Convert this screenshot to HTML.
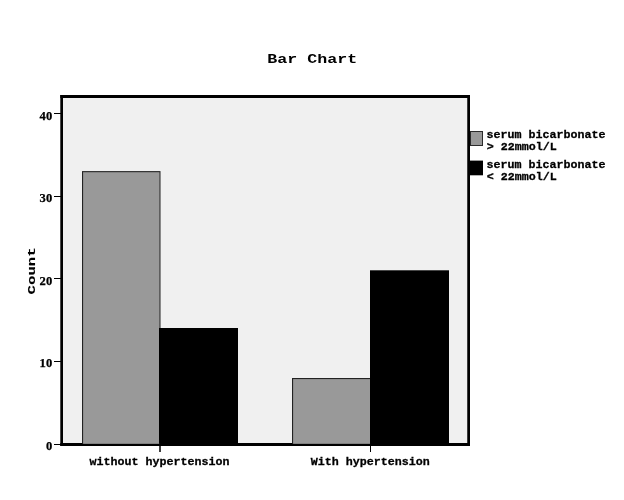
<!DOCTYPE html>
<html>
<head>
<meta charset="utf-8">
<title>Bar Chart</title>
<style>
html,body{margin:0;padding:0;background:#fff;}
body{width:624px;height:500px;overflow:hidden;position:relative;}
svg{display:block;position:absolute;left:0;top:0;}
text{font-family:"Liberation Mono","DejaVu Sans Mono",monospace;font-weight:bold;fill:#000;}
.t{font-size:16.67px;}
.l{font-size:11.67px;stroke:#000;stroke-width:0.3px;}
.c{font-size:15px;stroke:#000;stroke-width:0.15px;}
.d{font-family:"Liberation Serif","DejaVu Serif",serif;font-size:12.6px;letter-spacing:0.4px;stroke:#000;stroke-width:0.25px;}
</style>
</head>
<body>
<svg width="624" height="500" viewBox="0 0 624 500">
  <rect x="0" y="0" width="624" height="500" fill="#ffffff"/>
  <!-- plot background -->
  <rect x="61" y="95" width="409" height="351" fill="#f0f0f0" shape-rendering="crispEdges"/>
  <!-- frame -->
  <g shape-rendering="crispEdges" fill="#000000">
    <rect x="60.3" y="95" width="409.7" height="3" shape-rendering="geometricPrecision"/>
    <rect x="60.3" y="95" width="2.7" height="351" shape-rendering="geometricPrecision"/>
    <rect x="467.25" y="95" width="2.75" height="351" shape-rendering="geometricPrecision"/>
    <rect x="60.3" y="443" width="409.7" height="3" shape-rendering="geometricPrecision"/>
    <!-- y ticks -->
    <rect x="54" y="113" width="7" height="1"/>
    <rect x="54" y="196" width="7" height="1"/>
    <rect x="54" y="278" width="7" height="1"/>
    <rect x="54" y="361" width="7" height="1"/>
    <rect x="54" y="444" width="7" height="1"/>
    <!-- x ticks -->
    <rect x="159.25" y="446" width="1.5" height="6" fill="#000" shape-rendering="geometricPrecision"/>
    <rect x="370" y="446" width="1" height="6" fill="#000"/>
  </g>
  <!-- bars -->
  <g>
    <rect x="82" y="171.1" width="78.5" height="272.7" fill="#222222"/>
    <rect x="83.1" y="172.2" width="76.4" height="271.6" fill="#999999"/>
    <rect x="159" y="328" width="79" height="115.8" fill="#000000"/>
    <rect x="292" y="378" width="78.5" height="65.8" fill="#222222"/>
    <rect x="293.1" y="379.1" width="76.9" height="64.7" fill="#999999"/>
    <rect x="370" y="270.3" width="79" height="173.5" fill="#000000"/>
  </g>
  <!-- title -->
  <text class="t" transform="translate(312.3,62.8) scale(1,0.8)" text-anchor="middle">Bar Chart</text>
  <!-- y labels -->
  <text class="d" x="52.8" y="119.5" text-anchor="end">40</text>
  <text class="d" x="52.8" y="202.1" text-anchor="end">30</text>
  <text class="d" x="52.8" y="284.7" text-anchor="end">20</text>
  <text class="d" x="52.8" y="367.3" text-anchor="end">10</text>
  <text class="d" x="52.8" y="449.7" text-anchor="end">0</text>
  <!-- y axis title -->
  <text class="c" transform="translate(35.2,270.9) rotate(-90) scale(1.05,0.69)" text-anchor="middle">Count</text>
  <!-- x labels -->
  <text class="l" x="159.5" y="464.6" text-anchor="middle">without hypertension</text>
  <text class="l" x="370.3" y="464.6" text-anchor="middle">With hypertension</text>
  <!-- legend -->
  <g shape-rendering="crispEdges">
    <rect x="470.5" y="131.5" width="12" height="14" fill="#999999" stroke="#2b2b2b" stroke-width="1"/>
    <rect x="470" y="160.6" width="13" height="14.7" fill="#000000" shape-rendering="geometricPrecision"/>
  </g>
  <text class="l" x="486.5" y="137.6">serum bicarbonate</text>
  <text class="l" x="486.8" y="150">&gt; 22mmol/L</text>
  <text class="l" x="486.5" y="167.6">serum bicarbonate</text>
  <text class="l" x="486.8" y="180">&lt; 22mmol/L</text>
</svg>
</body>
</html>
